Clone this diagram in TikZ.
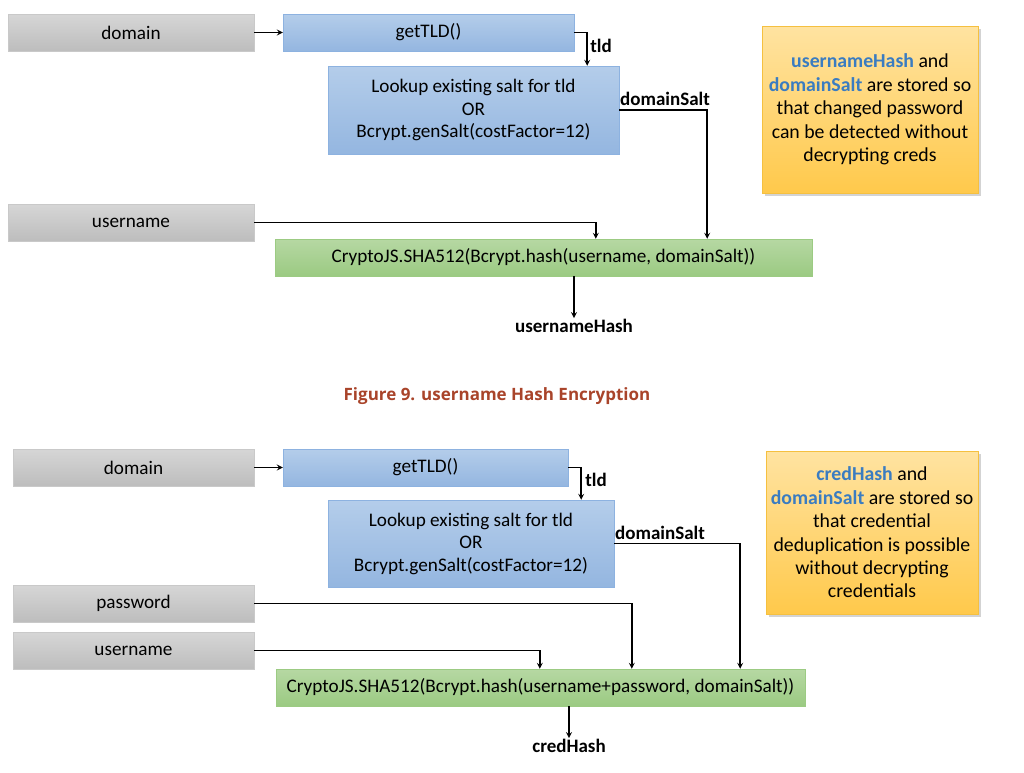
\documentclass[tikz,border=0pt]{standalone}
\usepackage{fontspec}
\setmainfont{Carlito}
\newfontfamily\capfont{Open Sans}
\usetikzlibrary{shadows}

\definecolor{grayTop}{HTML}{D6D6D6}
\definecolor{grayBot}{HTML}{BDBDBD}
\definecolor{grayEdge}{HTML}{C9C9C9}
\definecolor{blueTop}{HTML}{B4CDEA}
\definecolor{blueBot}{HTML}{94B6E0}
\definecolor{blueEdge}{HTML}{8DB2E0}
\definecolor{greenTop}{HTML}{B6D8A3}
\definecolor{greenBot}{HTML}{9BCA82}
\definecolor{greenEdge}{HTML}{9CCB83}
\definecolor{noteTop}{HTML}{FFE3A1}
\definecolor{noteBot}{HTML}{FFC94B}
\definecolor{noteEdge}{HTML}{F5C040}
\definecolor{keyblue}{HTML}{3A7CC1}
\definecolor{capred}{HTML}{A9442A}

\tikzset{
  box/.style={inner sep=0pt, align=center, font=\fontsize{19.2}{22.5}\selectfont},
  inbox/.style={box, draw=grayEdge, top color=grayTop, bottom color=grayBot},
  fnbox/.style={box, draw=blueEdge, top color=blueTop, bottom color=blueBot},
  hashbox/.style={box, draw=greenEdge, top color=greenTop, bottom color=greenBot},
  notebox/.style={box, draw=noteEdge, line width=0.8pt, top color=noteTop, bottom color=noteBot,
    font=\fontsize{19.8}{23.4}\selectfont, drop shadow={shadow xshift=3pt, shadow yshift=-3pt, opacity=0.35}},
  lbl/.style={font=\bfseries\fontsize{19}{22}\selectfont, inner sep=1pt},
  flow/.style={->, line width=1.6pt},
}
\newcommand{\key}[1]{\textcolor{keyblue}{\bfseries #1}}

\begin{document}
\begin{tikzpicture}[x=1pt, y=-1pt, >=stealth]
  \useasboundingbox (0,0) rectangle (1024,772);

  % username hash
  \node[inbox, minimum width=246pt, minimum height=37pt] (dom1) at (131,32.5) {domain};
  \node[fnbox, minimum width=291pt, minimum height=37pt] (tld1) at (428.5,32.5) {getTLD()};
  \node[fnbox, minimum width=291pt, minimum height=88pt] (salt1) at (473.5,110) {Lookup existing salt for tld\\OR\\Bcrypt.genSalt(costFactor=12)};
  \node[inbox, minimum width=246pt, minimum height=37pt] (user1) at (131,222.5) {username};
  \node[hashbox, minimum width=537pt, minimum height=37pt] (hash1) at (543.5,257.5) {CryptoJS.SHA512(Bcrypt.hash(username, domainSalt))};
  \node[lbl] (uhash) at (574,326) {usernameHash};
  \node[notebox, minimum width=216pt, minimum height=167pt] (note1) at (870,109.5)
    {\key{usernameHash} and\\\key{domainSalt} are stored so\\that changed password\\can be detected without\\decrypting creds};

  \draw[flow] (dom1.east) -- (tld1.west);
  \draw[flow] (tld1.east) -| ([xshift=-32pt]salt1.north east);
  \node[lbl] at (601,46) {tld};
  \draw[flow] (salt1.east) -| ([xshift=-105pt]hash1.north east);
  \node[lbl] at (665,99) {domainSalt};
  \draw[flow] (user1.east) -| ([xshift=321pt]hash1.north west);
  \draw[flow] ([xshift=30.5pt]hash1.south) -- (uhash.north);

  \node[font=\capfont\bfseries\fontsize{17}{20}\selectfont, text=capred] (cap) at (497,396) {Figure 9. username Hash Encryption};

  % cred hash
  \node[inbox, minimum width=241pt, minimum height=37pt] (dom2) at (133.5,467.5) {domain};
  \node[fnbox, minimum width=285pt, minimum height=37pt] (tld2) at (425.5,467.5) {getTLD()};
  \node[fnbox, minimum width=286pt, minimum height=87pt] (salt2) at (471,543.5) {Lookup existing salt for tld\\OR\\Bcrypt.genSalt(costFactor=12)};
  \node[inbox, minimum width=241pt, minimum height=37pt] (pass2) at (133.5,603.5) {password};
  \node[inbox, minimum width=241pt, minimum height=37pt] (user2) at (133.5,650.5) {username};
  \node[hashbox, minimum width=529pt, minimum height=37pt] (hash2) at (540.5,687.5) {CryptoJS.SHA512(Bcrypt.hash(username+password, domainSalt))};
  \node[lbl] (chash) at (569,746) {credHash};
  \node[notebox, minimum width=212pt, minimum height=163pt] (note2) at (872,532.5)
    {\key{credHash} and\\\key{domainSalt} are stored so\\that credential\\deduplication is possible\\without decrypting\\credentials};

  \draw[flow] (dom2.east) -- (tld2.west);
  \draw[flow] (tld2.east) -| ([xshift=-33pt]salt2.north east);
  \node[lbl] at (596,480) {tld};
  \draw[flow] (salt2.east) -| ([xshift=-65pt]hash2.north east);
  \node[lbl] at (660,533) {domainSalt};
  \draw[flow] (pass2.east) -| ([xshift=356pt]hash2.north west);
  \draw[flow] (user2.east) -| ([xshift=264pt]hash2.north west);
  \draw[flow] ([xshift=28.5pt]hash2.south) -- (chash.north);
\end{tikzpicture}
\end{document}
